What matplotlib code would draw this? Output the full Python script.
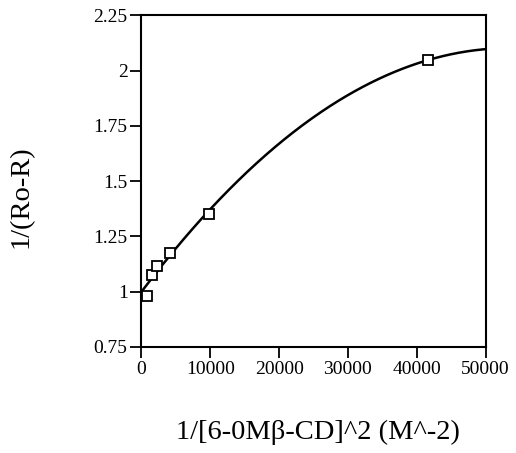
import numpy as np
import matplotlib
matplotlib.use("Agg")
import matplotlib.pyplot as plt

plt.rcParams['font.family'] = ['Liberation Serif', 'DejaVu Serif']

# Measured points: inverse squared concentration vs 1/(Ro-R)
inv_conc_sq = [840, 1480, 2250, 4180, 9800, 41700]
inv_delta_r = [0.98, 1.077, 1.118, 1.177, 1.352, 2.049]

# Second-order fit: y = a + b*x + c*x^2
fit_a = 1.0
fit_b = 4.121e-5
fit_c = -3.851e-10

x_ticks = [0, 10000, 20000, 30000, 40000, 50000]
y_ticks = [0.75, 1, 1.25, 1.5, 1.75, 2, 2.25]
y_tick_labels = ["0.75", "1", "1.25", "1.5", "1.75", "2", "2.25"]

fig = plt.figure(figsize=(5.16, 4.53), dpi=100)
ax = fig.add_axes([0.2742, 0.2340, 0.6667, 0.7318])

xf = np.linspace(0, 50000, 300)
ax.plot(xf, np.polyval([fit_c, fit_b, fit_a], xf), color='black', lw=1.8)

ax.plot(inv_conc_sq, inv_delta_r, linestyle='none', marker='s', ms=7.5,
        mfc='white', mec='black', mew=1.3)

ax.set_xlim(0, 50000)
ax.set_ylim(0.75, 2.25)
ax.set_xticks(x_ticks)
ax.set_xticklabels([str(t) for t in x_ticks])
ax.set_yticks(y_ticks)
ax.set_yticklabels(y_tick_labels)
ax.tick_params(direction='out', length=8, width=1.3, labelsize=14, pad=2,
               colors='black')
for s in ax.spines.values():
    s.set_linewidth(1.5)

ax.set_xlabel("1/[6-0Mβ-CD]^2 (M^-2)", fontsize=20.5, labelpad=30.5)
ax.set_ylabel("1/(Ro-R)", fontsize=20.5, labelpad=43)
ax.xaxis.label.set_x(0.514)
ax.yaxis.label.set_y(0.4525)

fig.savefig("out.png", dpi=100)
